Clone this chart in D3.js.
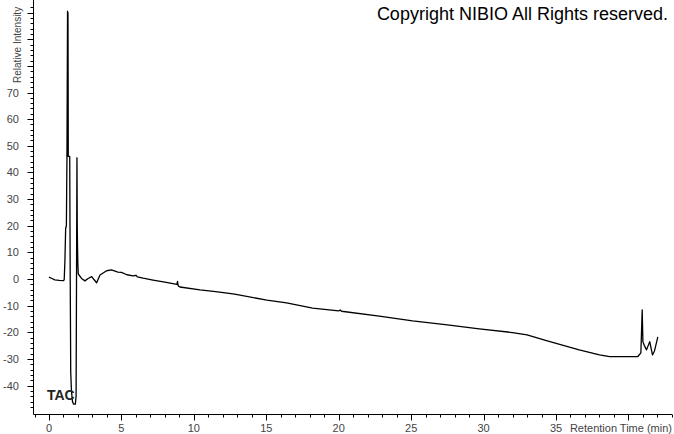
<!DOCTYPE html>
<html><head><meta charset="utf-8">
<script src="https://cdn.jsdelivr.net/npm/d3@7"></script>
<style>body{margin:0;background:#fff}svg{display:block}</style>
</head><body>
<svg id="c" width="674" height="434"></svg>
<script>
const times = [0.0,0.2,0.4,0.7,1.0,1.05,1.1,1.15,1.2,1.24,1.28,1.3,1.31,1.32,1.33,1.43,1.46,1.5,1.55,1.62,1.7,1.82,1.87,1.9,1.93,1.95,1.97,1.99,2.02,2.07,2.25,2.48,2.7,2.95,3.1,3.29,3.52,3.98,4.3,4.76,5.0,5.38,5.8,6.0,6.1,6.5,7.18,8.0,8.83,8.87,8.92,9.04,10.42,11.5,12.7,13.0,15.04,16.4,18.2,20.0,20.1,20.2,22.8,25.1,27.5,29.7,32.0,33.0,34.4,36.6,38.0,38.7,40.65,40.86,40.95,41.0,41.1,41.25,41.47,41.66,41.8,42.03];
const intensity = [0.7,0.2,-0.3,-0.5,-0.6,-0.3,7,19,20,46,100.5,78,100,78,46,46,5,-35,-42,-46,-47,-47,-44,0,45.5,20,12,6,2,1.5,0.2,-0.7,0.2,0.9,-0.2,-1.4,1.5,3.1,3.4,2.6,2.5,1.6,1.2,1.4,0.8,0.3,-0.4,-1.2,-2.0,-0.9,-2.6,-3.0,-4.1,-4.7,-5.6,-5.9,-7.9,-9.0,-10.9,-12.0,-11.6,-12.1,-13.9,-15.7,-17.2,-18.7,-20.1,-21.0,-23.2,-26.6,-28.5,-29.1,-29.1,-27.7,-11.6,-23.6,-25,-26.6,-23.5,-28.5,-27,-21.7];
const xTickLabels = [0,5,10,15,20,25,30,35];
const yTickLabels = [-40,-30,-20,-10,0,10,20,30,40,50,60,70];

const svg = d3.select("#c");
const x = d3.scaleLinear().domain([0,35]).range([49,556]);
const y = d3.scaleLinear().domain([0,70]).range([279,92.5]);
const axX = 33.5, axY = 414.5;
const font = "'Liberation Sans', Arial, sans-serif";

// axes lines
svg.append("line").attr("x1",axX).attr("x2",axX).attr("y1",0).attr("y2",axY).attr("stroke","#000").attr("stroke-width",1);
svg.append("line").attr("x1",axX).attr("x2",672).attr("y1",axY).attr("y2",axY).attr("stroke","#000").attr("stroke-width",1);

// y ticks
const yMinor = d3.range(-48, 104, 2);
svg.append("g").selectAll("line").data(yMinor).join("line")
  .attr("x1", d => d % 10 === 0 ? axX-6 : axX-3).attr("x2", axX)
  .attr("y1", d => Math.round(y(d))+0.5).attr("y2", d => Math.round(y(d))+0.5)
  .attr("stroke","#000");
svg.append("g").selectAll("text").data(yTickLabels).join("text")
  .attr("x", 19).attr("y", d => y(d)+4)
  .attr("text-anchor","end").attr("font-family",font).attr("font-size",11).attr("fill","#444")
  .text(d => d);

// x ticks
const xMinor = d3.range(-1, 44, 1);
svg.append("g").selectAll("line").data(xMinor.filter(d => x(d) >= axX && x(d) <= 672)).join("line")
  .attr("x1", d => Math.round(x(d))+0.5).attr("x2", d => Math.round(x(d))+0.5)
  .attr("y1", axY).attr("y2", d => d % 5 === 0 ? axY+6 : axY+3)
  .attr("stroke","#000");
svg.append("g").selectAll("text").data(xTickLabels).join("text")
  .attr("x", d => x(d)).attr("y", 432)
  .attr("text-anchor","middle").attr("font-family",font).attr("font-size",11).attr("fill","#444")
  .text(d => d);

svg.append("text").attr("x",672).attr("y",432).attr("text-anchor","end")
  .attr("font-family",font).attr("font-size",11).attr("fill","#444").text("Retention Time (min)");

svg.append("text").attr("transform","translate(21,83) rotate(-90)")
  .attr("font-family",font).attr("font-size",10).attr("fill","#444").text("Relative Intensity");

// trace
const data = times.map((t,i) => [t, intensity[i]]);
svg.append("path").datum(data)
  .attr("d", d3.line().x(d => x(d[0])).y(d => y(d[1])))
  .attr("fill","none").attr("stroke","#000").attr("stroke-width",1.3).attr("stroke-linejoin","round");

svg.append("text").attr("x",47).attr("y",400).attr("font-family",font).attr("font-weight","bold")
  .attr("font-size",14).attr("fill","#222").text("TAC");

svg.append("text").attr("x",668).attr("y",20).attr("text-anchor","end")
  .attr("font-family",font).attr("font-size",18).attr("fill","#000").text("Copyright NIBIO All Rights reserved.");
</script>
</body></html>
